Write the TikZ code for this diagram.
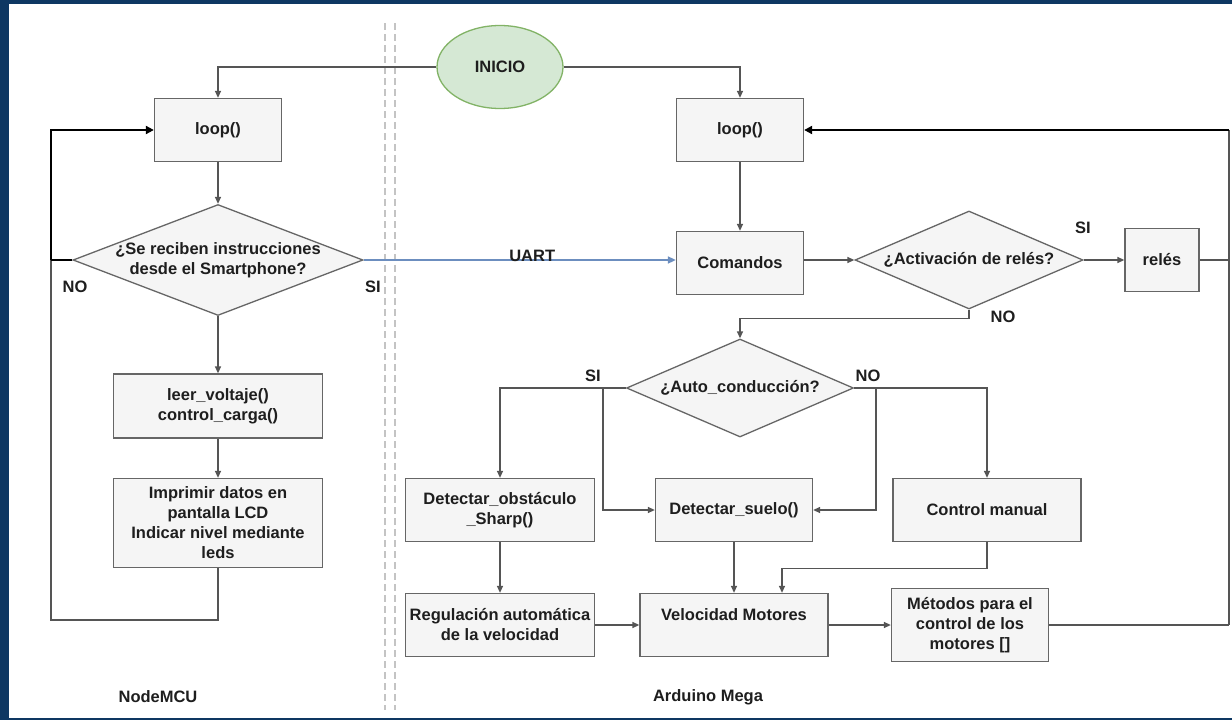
\documentclass[tikz,border=0pt]{standalone}
\usepackage{fontspec}
\setmainfont{Liberation Sans}
\usetikzlibrary{shapes.geometric,arrows.meta,calc}
\definecolor{navy}{HTML}{0E3762}
\definecolor{boxfill}{HTML}{F5F5F5}
\definecolor{boxline}{HTML}{666666}
\definecolor{wire}{HTML}{555555}
\definecolor{txt}{HTML}{1E1E1E}
\definecolor{startfill}{HTML}{D5E8D4}
\definecolor{startline}{HTML}{82B366}
\definecolor{uartblue}{HTML}{6C8EBF}
\definecolor{sep}{HTML}{C4C4C4}
\tikzset{
  every node/.style={font=\fontsize{16.5}{20}\selectfont\bfseries, text=txt},
  proc/.style={draw=boxline, fill=boxfill, line width=1.3pt, rectangle,
    inner sep=0pt, align=center},
  dec/.style={draw=boxline, fill=boxfill, line width=1.3pt, diamond,
    inner sep=0pt},
  start/.style={draw=startline, fill=startfill, line width=1.3pt, ellipse,
    inner sep=0pt},
  tag/.style={inner sep=0pt},
  ln/.style={draw=wire, line width=1.3pt, -{Triangle[length=7pt,width=6pt]}},
  plain/.style={draw=wire, line width=1.3pt},
  thk/.style={draw=black, line width=2.4pt, -{Triangle[length=8pt,width=8pt]}},
  side/.style={draw=wire, line width=1.9pt},
  thkplain/.style={draw=black, line width=2.4pt},
  uart/.style={draw=uartblue, line width=1.6pt, -{Triangle[length=8pt,width=7pt]}},
  divider/.style={draw=sep, line width=2pt, dash pattern=on 7pt off 4pt},
}
\begin{document}
\begin{tikzpicture}[x=1pt, y=-1pt]
  % page and frame
  \fill[navy] (0,0) rectangle (1232,720);
  \fill[white] (9,4) rectangle (1232,718);
  \useasboundingbox (0,0) rectangle (1232,720);

  % separators between the two boards
  \draw[divider] (385,23) -- (385,710);
  \draw[divider] (395,23) -- (395,710);

  % start
  \node[start, minimum width=126, minimum height=83] (ini) at (500,67) {INICIO};

  % NodeMCU side
  \node[proc, minimum width=127, minimum height=63] (lp1) at (218,130) {loop()};
  \node[dec, minimum width=290, minimum height=111,
        label={[align=center]center:¿Se reciben instrucciones\\desde el Smartphone?}]
        (d1) at (218,260) {};
  \node[proc, minimum width=209, minimum height=64] (rd) at (218,406)
        {leer\_voltaje()\\control\_carga()};
  \node[proc, minimum width=209, minimum height=89] (pr) at (218,523)
        {Imprimir datos en\\pantalla LCD\\Indicar nivel mediante\\leds};

  % Arduino Mega side
  \node[proc, minimum width=127, minimum height=63] (lp2) at (740,130) {loop()};
  \node[proc, minimum width=127, minimum height=63] (com) at (740,263) {Comandos};
  \node[dec, minimum width=228, minimum height=98,
        label={center:¿Activación de relés?}] (d2) at (969,260) {};
  \node[proc, minimum width=74, minimum height=63] (rel) at (1162,260) {relés};
  \node[dec, minimum width=227, minimum height=98,
        label={center:¿Auto\_conducción?}] (d3) at (740,388) {};
  \node[proc, minimum width=189, minimum height=63] (dob) at (500,510)
        {Detectar\_obstáculo\\\_Sharp()};
  \node[proc, minimum width=157, minimum height=63] (dsu) at (734,510)
        {Detectar\_suelo()};
  \node[proc, minimum width=188, minimum height=63] (cm) at (987,510)
        {Control manual};
  \node[proc, minimum width=189, minimum height=63] (reg) at (500,625)
        {Regulación automática\\de la velocidad};
  \node[proc, minimum width=188, minimum height=63] (vel) at (734,625)
        {Velocidad Motores\\\mbox{}};
  \node[proc, minimum width=157, minimum height=73] (met) at (970,625)
        {Métodos para el\\control de los\\motores []};

  % junction points
  \coordinate (nx) at (51,260);
  \coordinate (bl) at (51,620);
  \coordinate (tr) at (1229,130);
  \coordinate (mr) at (1229,260);
  \coordinate (br) at (1229,625);
  \coordinate (sj) at (603,388);
  \coordinate (nj) at (876,388);

  % connectors: NodeMCU
  \draw[ln] (ini.west) -| (lp1.north);
  \draw[ln] (lp1.south) -- (d1.north);
  \draw[ln] (d1.south) -- (rd.north);
  \draw[ln] (rd.south) -- (pr.north);
  \draw[plain] (pr.south) |- (bl) -- (nx);
  \draw[thkplain] (d1.west) -- (nx);
  \draw[thk] (nx) |- (lp1.west);
  \draw[uart] (d1.east) -- (d1.east -| com.west)
        node[pos=0.54, anchor=base, yshift=-1pt, tag] {UART};

  % connectors: Arduino Mega
  \draw[ln] (ini.east) -| (lp2.north);
  \draw[ln] (lp2.south) -- (com.north);
  \draw[ln] (com.east |- d2.west) -- (d2.west);
  \draw[ln] (d2.east) -- (rel.west);
  \draw[plain] (rel.east) -- (mr);
  \draw[ln] (d2.south) -- ++(0,9) -| (d3.north);
  \draw[ln] (d3.west) -| (dob.north);
  \draw[ln] (sj) |- (dsu.west);
  \draw[ln] (d3.east) -| (cm.north);
  \draw[ln] (nj) |- (dsu.east);
  \draw[ln] (dob.south) -- (reg.north);
  \draw[ln] (reg.east) -- (vel.west);
  \draw[ln] (dsu.south) -- (dsu.south |- vel.north);
  \draw[ln] (cm.south) -- ++(0,26) -| ([xshift=48pt]vel.north);
  \draw[ln] (vel.east) -- (met.west);
  \draw[plain] (met.east) -- (br);
  \draw[side] (br) -- (tr);
  \draw[thk] (tr) -- (lp2.east);

  % branch labels
  \node[tag] at (75,287) {NO};
  \node[tag] at (373,287) {SI};
  \node[tag] at (1083,228) {SI};
  \node[tag] at (1003,317) {NO};
  \node[tag] at (593,376) {SI};
  \node[tag] at (868,376) {NO};

  % board names
  \node[tag] at (158,697) {NodeMCU};
  \node[tag] at (708,697) {Arduino Mega};
\end{tikzpicture}
\end{document}
